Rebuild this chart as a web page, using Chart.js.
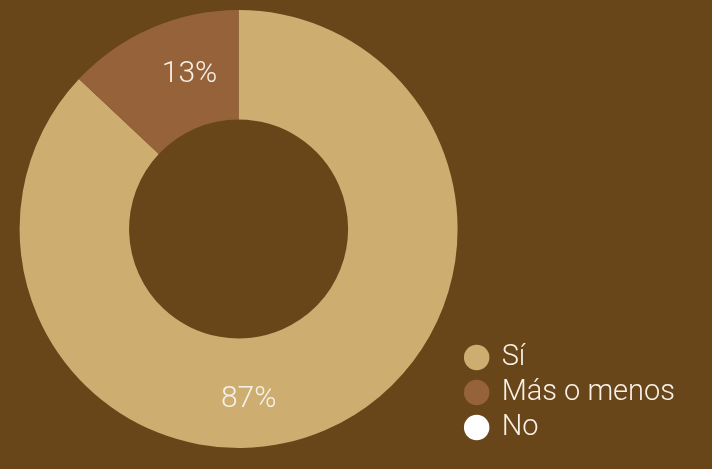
<!DOCTYPE html>
<html>
<head>
<meta charset="utf-8">
<script src="https://cdn.jsdelivr.net/npm/chart.js@4/dist/chart.umd.min.js"></script>
<style>
  html, body { margin: 0; padding: 0; background: #684619; }
  #wrap { width: 712px; height: 469px; position: relative; }
</style>
</head>
<body>
<div id="wrap"><canvas id="respuestas"></canvas></div>
<script>
var categories = ['Sí', 'Más o menos', 'No'];
var percentages = [87, 13, 0];
var sliceColors = ['#CDAE70', '#95623A', '#FFFFFF'];

// percentage text inside each slice, turned a little along the ring
var sliceLabels = {
    id: 'sliceLabels',
    afterDatasetsDraw: function (chart, args, opts) {
        var ctx = chart.ctx;
        var meta = chart.getDatasetMeta(0);
        ctx.save();
        ctx.font = '300 30px Roboto, "Liberation Sans", sans-serif';
        ctx.fillStyle = '#F7F1E8';
        ctx.textAlign = 'center';
        ctx.textBaseline = 'middle';
        meta.data.forEach(function (arc, i) {
            var value = percentages[i];
            if (!value) return;
            var p = arc.getProps(['x', 'y', 'startAngle', 'endAngle', 'innerRadius', 'outerRadius'], true);
            var angle = (p.startAngle + p.endAngle) / 2 + (opts.turn[i] || 0) * Math.PI / 180;
            var r = (p.innerRadius + p.outerRadius) / 2 + (opts.push[i] || 0);
            ctx.fillText(value + '%', p.x + Math.cos(angle) * r, p.y + Math.sin(angle) * r + 2);
        });
        ctx.restore();
    }
};

function createDoughnut(chartId) {
    var ctx = document.getElementById(chartId).getContext('2d');
    return new Chart(ctx, {
        type: 'doughnut',
        data: {
            labels: categories,
            datasets: [{
                data: percentages,
                backgroundColor: sliceColors,
                borderWidth: 0
            }]
        },
        options: {
            responsive: true,
            maintainAspectRatio: false,
            animation: false,
            cutout: '50%',
            layout: {
                padding: { left: 17, top: 10, bottom: 21, right: 27 }
            },
            plugins: {
                tooltip: { enabled: false },
                legend: {
                    position: 'right',
                    align: 'end',
                    labels: {
                        usePointStyle: true,
                        pointStyle: 'circle',
                        boxWidth: 21,
                        boxHeight: 18,
                        padding: 6,
                        color: '#F7F1E8',
                        font: { family: 'Roboto, "Liberation Sans", sans-serif', size: 29, weight: '300' }
                    }
                },
                sliceLabels: { turn: [20, 6], push: [5, 0] }
            }
        },
        plugins: [sliceLabels]
    });
}

createDoughnut('respuestas');
</script>
</body>
</html>
